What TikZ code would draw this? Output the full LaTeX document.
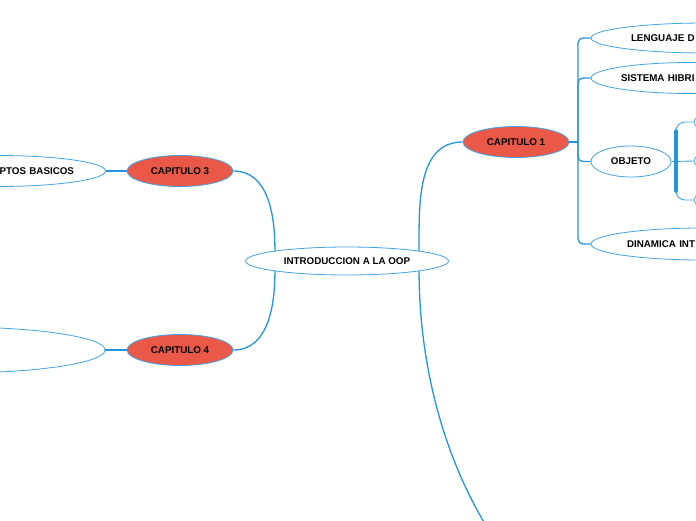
\documentclass[tikz,border=0pt]{standalone}
\usepackage{fontspec}
\setmainfont{Liberation Sans}
\usepackage{xcolor}
\usepackage{tikz}
\usetikzlibrary{arrows.meta}
\usetikzlibrary{calc,positioning,shapes.geometric}
\definecolor{color1}{RGB}{234,88,72}
\definecolor{color2}{RGB}{33,150,223}
\definecolor{color3}{RGB}{66,163,228}
\tikzset{%
  % Specifications for style of nodes:
  base/.style = {ellipse, draw=color3, line width=0.8pt, fill=white,
    inner sep=0pt, minimum height=31pt,
    text centered, font=\bfseries\fontsize{9.8}{12}\selectfont},
  chapter/.style = {base, fill=color1, minimum width=106pt},
  topic/.style = {base, text width=150pt, align=left},
  link/.style = {draw=color2, line width=1.3pt},
  thinlink/.style = {draw=color3, line width=0.9pt},
}

\begin{document}
\begin{tikzpicture}
  \useasboundingbox (0,0) rectangle (696pt,-520pt);
  \clip (0,0) rectangle (696pt,-520pt);
  \begin{scope}[x=1pt, y=1pt]
    % Specification of nodes (position, etc.)
    \node(Intro)[base, minimum width=203pt, minimum height=28pt] at (347,-261) {INTRODUCCION A LA OOP};
    \node(Cap3)[chapter] at (180,-171) {CAPITULO 3};
    \node(Cap4)[chapter] at (180,-350) {CAPITULO 4};
    \node(Cap1)[chapter] at (516,-142) {CAPITULO 1};
    \node(Basic)[base, text width=152pt, align=right] at (-2,-171) {PTOS BASICOS};
    \node(Big)[base, minimum width=300pt, minimum height=46pt] at (-45,-350) {};
    \node(Lang)[topic, minimum width=230pt, minimum height=30pt] at (706,-38) {LENGUAJE D};
    \node(Hybrid)[topic, text width=140pt, minimum width=200pt] at (691,-78) {SISTEMA HIBRI};
    \node(Obj)[base, minimum width=80pt] at (631,-161.5) {OBJETO};
    \node(Dyn)[topic, minimum width=222pt, minimum height=32pt] at (702,-244) {DINAMICA INT};
    \node(ObjA)[base, minimum width=120pt] at (754,-122) {};
    \node(ObjB)[base, minimum width=120pt] at (754,-161) {};
    \node(ObjC)[base, minimum width=120pt] at (754,-200) {};
    \coordinate(Hub) at (578,-142);
    \coordinate(Brace) at (676,-161);
    \coordinate(Cap2) at (620,-660);
    % connectors
    \draw[link](Intro.north west) to[out=90, in=0] (Cap3.east);
    \draw[link](Intro.south west) to[out=-90, in=0] (Cap4.east);
    \draw[link](Intro.north east) to[out=90, in=180] (Cap1.west);
    \draw[link](Intro.south east) .. controls +(0,-110) and +(-165,100) .. (Cap2);
    \draw[link, line width=2.2pt](Cap3.west) -- (Basic.east);
    \draw[link, line width=2.2pt](Cap4.west) -- (Big.east);
    \draw[link](Cap1.east) -- (Hub);
    \draw[link, rounded corners=5pt](Lang.west) -| (Hub) |- (Dyn.west);
    \draw[link, rounded corners=5pt](Hybrid.west) -| (Hub);
    \draw[link, rounded corners=5pt](Obj.west) -| (Hub);
    \draw[thinlink](Obj.east) -- (ObjB.west);
    \draw[thinlink, rounded corners=9pt](ObjA.west) -| (Brace) |- (ObjC.west);
    \draw[link, line width=3.5pt, line cap=round]($(Brace)+(0,30)$) -- ($(Brace)+(0,-30)$);
  \end{scope}
\end{tikzpicture}
\end{document}
